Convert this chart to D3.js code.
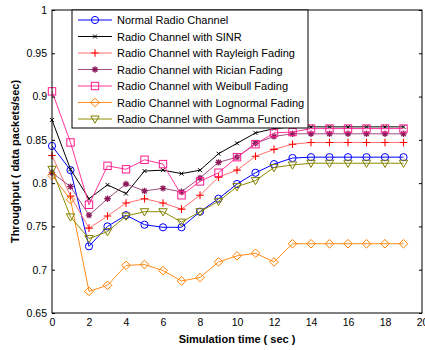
<!DOCTYPE html>
<html>
<head>
<meta charset="utf-8">
<script src="https://cdn.jsdelivr.net/npm/d3@7"></script>
<style>
  body { margin: 0; background: #fff; }
  svg { display: block; font-family: Arial, "Liberation Sans", sans-serif; }
</style>
</head>
<body>
<script>
'use strict';

// simulation time axis
const times = d3.range(0, 20);
const xTicks = [0, 2, 4, 6, 8, 10, 12, 14, 16, 18, 20];
const yTicks = [0.65, 0.7, 0.75, 0.8, 0.85, 0.9, 0.95, 1];

// throughput values
const normalRadio = [0.843, 0.815, 0.727, 0.750, 0.763, 0.752, 0.749, 0.749, 0.767, 0.782,
  0.799, 0.812, 0.822, 0.829, 0.830, 0.830, 0.830, 0.830, 0.830, 0.830];
const sinrChannel = [0.873, 0.816, 0.782, 0.798, 0.788, 0.814, 0.815, 0.811, 0.815, 0.834,
  0.846, 0.858, 0.863, 0.865, 0.865, 0.865, 0.865, 0.865, 0.865, 0.865];
const rayleighFading = [0.832, 0.785, 0.748, 0.762, 0.777, 0.782, 0.777, 0.770, 0.786, 0.807,
  0.815, 0.831, 0.839, 0.845, 0.847, 0.847, 0.847, 0.847, 0.847, 0.847];
const ricianFading = [0.812, 0.796, 0.763, 0.782, 0.799, 0.791, 0.794, 0.790, 0.806, 0.824,
  0.830, 0.846, 0.854, 0.857, 0.857, 0.857, 0.857, 0.857, 0.857, 0.857];
const weibullFading = [0.906, 0.847, 0.775, 0.820, 0.816, 0.827, 0.822, 0.786, 0.802, 0.812,
  0.830, 0.845, 0.858, 0.859, 0.863, 0.863, 0.863, 0.863, 0.863, 0.863];
const lognormalFading = [0.809, 0.781, 0.675, 0.682, 0.705, 0.706, 0.699, 0.687, 0.691, 0.709,
  0.716, 0.719, 0.709, 0.730, 0.730, 0.730, 0.730, 0.730, 0.730, 0.730];
const gammaFunction = [0.816, 0.761, 0.736, 0.744, 0.762, 0.767, 0.767, 0.755, 0.767, 0.779,
  0.796, 0.803, 0.818, 0.821, 0.823, 0.823, 0.823, 0.823, 0.823, 0.823];

const seriesNames = [
  'Normal Radio Channel',
  'Radio Channel with SINR',
  'Radio Channel with Rayleigh Fading',
  'Radio Channel with Rician Fading',
  'Radio Channel with Weibull Fading',
  'Radio Channel with Lognormal Fading',
  'Radio Channel with Gamma Function'
];

// build series table from the arrays above
const series = [
  { name: seriesNames[0], values: normalRadio, line: '#0000ff', color: '#0000ff', marker: 'circle' },
  { name: seriesNames[1], values: sinrChannel, line: '#000000', color: '#000000', marker: 'x' },
  { name: seriesNames[2], values: rayleighFading, line: '#ff6f6f', color: '#ff0000', marker: 'plus' },
  { name: seriesNames[3], values: ricianFading, line: '#a04d80', color: '#8c1a5a', marker: 'star' },
  { name: seriesNames[4], values: weibullFading, line: '#ff3399', color: '#ff1a8c', marker: 'square' },
  { name: seriesNames[5], values: lognormalFading, line: '#ff8c1a', color: '#ff8000', marker: 'diamond' },
  { name: seriesNames[6], values: gammaFunction, line: '#8c8c00', color: '#808000', marker: 'triangle' }
];

const width = 425;
const height = 350;
const plot = { left: 52, right: 422, top: 10, bottom: 313 };

const svg = d3.select('body')
  .append('svg')
  .attr('width', width)
  .attr('height', height);

const xScale = d3.scaleLinear().domain([0, 20]).range([plot.left, plot.right]);
const yScale = d3.scaleLinear().domain([0.65, 1]).range([plot.bottom, plot.top]);

// draw a marker shape centred on (0,0)
function drawMarker(g, type, color) {
  if (type === 'circle') {
    g.append('circle').attr('r', 3.6).attr('fill', 'none').attr('stroke', color).attr('stroke-width', 1);
  } else if (type === 'square') {
    g.append('rect').attr('x', -3.7).attr('y', -3.7).attr('width', 7.4).attr('height', 7.4)
      .attr('fill', 'none').attr('stroke', color).attr('stroke-width', 1);
  } else if (type === 'diamond') {
    g.append('path').attr('d', 'M0,-4.3L4.3,0L0,4.3L-4.3,0Z')
      .attr('fill', 'none').attr('stroke', color).attr('stroke-width', 1);
  } else if (type === 'triangle') {
    g.append('path').attr('d', 'M-4.2,-3L4.2,-3L0,4.2Z')
      .attr('fill', 'none').attr('stroke', color).attr('stroke-width', 1);
  } else if (type === 'plus') {
    g.append('path').attr('d', 'M-3.8,0H3.8M0,-3.8V3.8')
      .attr('stroke', color).attr('stroke-width', 1.1);
  } else if (type === 'x') {
    g.append('path').attr('d', 'M-2,-2L2,2M-2,2L2,-2')
      .attr('stroke', color).attr('stroke-width', 1);
  } else if (type === 'star') {
    g.append('path').attr('d', 'M-3.2,0H3.2M0,-3.2V3.2M-2.3,-2.3L2.3,2.3M-2.3,2.3L2.3,-2.3')
      .attr('stroke', color).attr('stroke-width', 1.3);
  }
}

// lines and markers
const line = d3.line()
  .x((d, i) => xScale(times[i]))
  .y(d => yScale(d));

series.forEach(s => {
  svg.append('path')
    .datum(s.values)
    .attr('fill', 'none')
    .attr('stroke', s.line)
    .attr('stroke-width', 1)
    .attr('d', line);

  s.values.forEach((v, i) => {
    const g = svg.append('g')
      .attr('transform', 'translate(' + xScale(times[i]) + ',' + yScale(v) + ')');
    drawMarker(g, s.marker, s.color);
  });
});

// axes box
const yAxisLeft = d3.axisLeft(yScale).tickValues(yTicks).tickSize(-3).tickPadding(5)
  .tickFormat(d => d3.format('')(+d.toFixed(2)));
const yAxisRight = d3.axisRight(yScale).tickValues(yTicks).tickSize(-3).tickFormat('');
const xAxis = d3.axisBottom(xScale).tickValues(xTicks).tickSize(0).tickPadding(6);

const gx = svg.append('g')
  .attr('transform', 'translate(0,' + plot.bottom + ')')
  .call(xAxis);
const gyl = svg.append('g')
  .attr('transform', 'translate(' + plot.left + ',0)')
  .call(yAxisLeft);
const gyr = svg.append('g')
  .attr('transform', 'translate(' + plot.right + ',0)')
  .call(yAxisRight);

[gx, gyl, gyr].forEach(g => {
  g.select('.domain').remove();
  g.selectAll('text').attr('fill', '#000').style('font-size', '10.5px');
  g.selectAll('line').attr('stroke', '#000');
});

svg.append('rect')
  .attr('x', plot.left)
  .attr('y', plot.top)
  .attr('width', plot.right - plot.left)
  .attr('height', plot.bottom - plot.top)
  .attr('fill', 'none')
  .attr('stroke', '#000')
  .attr('stroke-width', 1);

// axis labels
svg.append('text')
  .attr('x', (plot.left + plot.right) / 2)
  .attr('y', 343)
  .attr('text-anchor', 'middle')
  .style('font-size', '11px')
  .style('font-weight', 'bold')
  .text('Simulation time ( sec )');

svg.append('text')
  .attr('transform', 'translate(19,' + (plot.top + plot.bottom) / 2 + ')rotate(-90)')
  .attr('text-anchor', 'middle')
  .style('font-size', '11px')
  .style('font-weight', 'bold')
  .text('Throughput ( data packets/sec)');

// legend
const legend = svg.append('g').attr('transform', 'translate(72,10)');
legend.append('rect')
  .attr('width', 236)
  .attr('height', 118)
  .attr('fill', '#fff')
  .attr('stroke', '#000')
  .attr('stroke-width', 1);

series.forEach((s, i) => {
  const yRow = 10 + i * 16.5;
  legend.append('line')
    .attr('x1', 6).attr('x2', 40)
    .attr('y1', yRow).attr('y2', yRow)
    .attr('stroke', s.line)
    .attr('stroke-width', 1);
  const g = legend.append('g').attr('transform', 'translate(23,' + yRow + ')');
  drawMarker(g, s.marker, s.color);
  legend.append('text')
    .attr('x', 45)
    .attr('y', yRow + 4)
    .style('font-size', '11px')
    .attr('fill', '#000')
    .text(s.name);
});
</script>
</body>
</html>
